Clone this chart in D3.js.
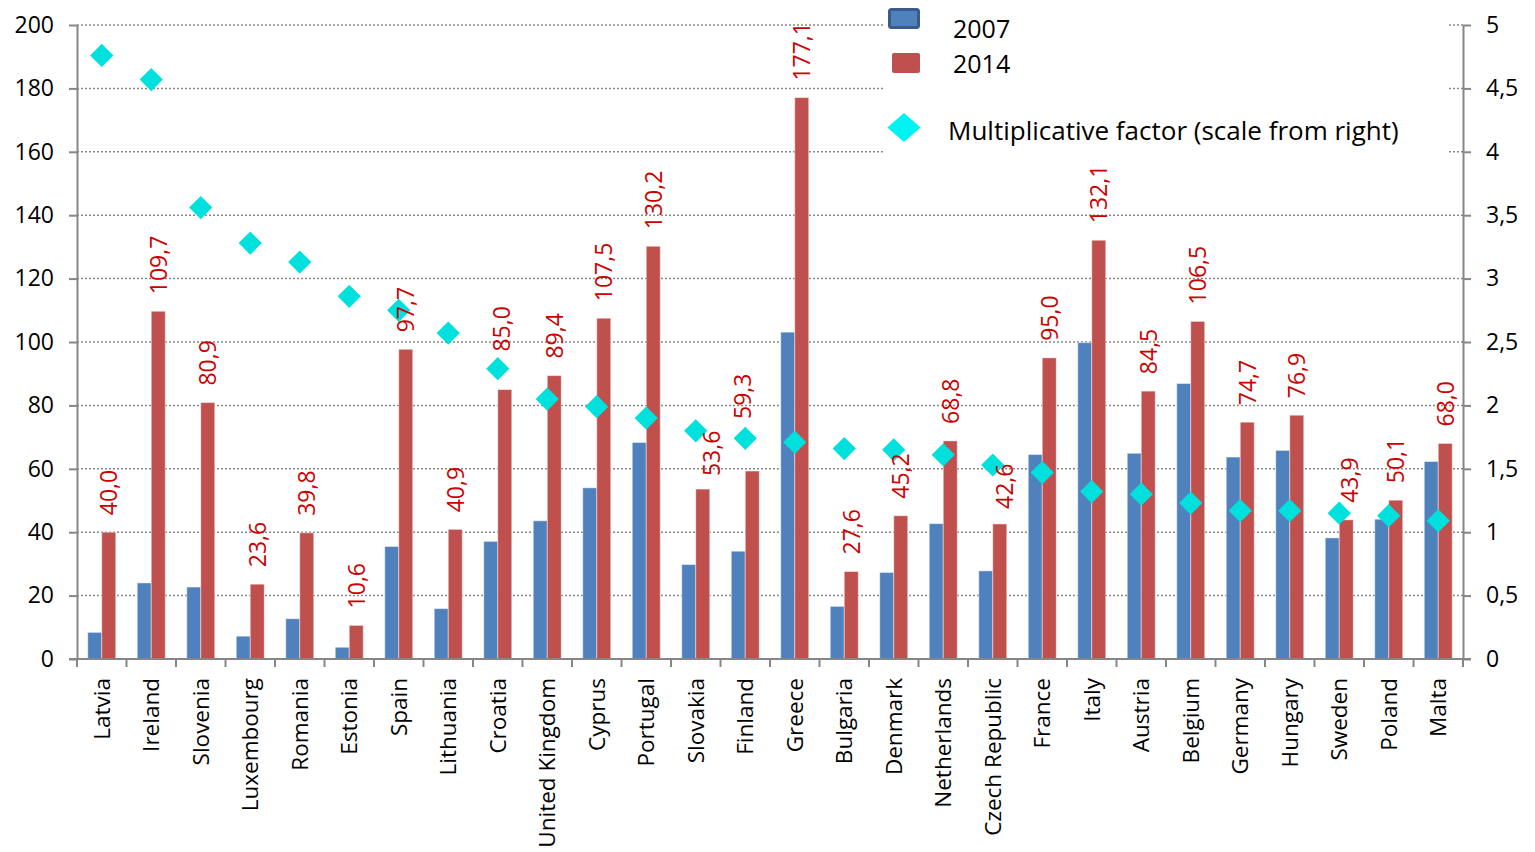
<!DOCTYPE html>
<html>
<head>
<meta charset="utf-8">
<script src="https://cdn.jsdelivr.net/npm/d3@7"></script>
<style>
  html, body { margin: 0; padding: 0; background: #fff; }
  svg { display: block; font-family: "Open Sans", sans-serif; }
</style>
</head>
<body>
<svg id="chart" width="1535" height="852"></svg>
<script>
// Public debt (% of GDP) in 2007 and 2014, with the 2014/2007 multiplicative factor
const countries = ["Latvia", "Ireland", "Slovenia", "Luxembourg", "Romania", "Estonia", "Spain",
  "Lithuania", "Croatia", "United Kingdom", "Cyprus", "Portugal", "Slovakia", "Finland", "Greece",
  "Bulgaria", "Denmark", "Netherlands", "Czech Republic", "France", "Italy", "Austria", "Belgium",
  "Germany", "Hungary", "Sweden", "Poland", "Malta"];

const debt2007 = [8.4, 24.0, 22.7, 7.2, 12.7, 3.7, 35.5, 15.9, 37.1, 43.6, 54.0, 68.3, 29.8, 34.0,
  103.1, 16.6, 27.3, 42.7, 27.8, 64.5, 99.8, 64.9, 86.9, 63.7, 65.8, 38.2, 44.1, 62.3];

const debt2014 = [40.0, 109.7, 80.9, 23.6, 39.8, 10.6, 97.7, 40.9, 85.0, 89.4, 107.5, 130.2, 53.6, 59.3,
  177.1, 27.6, 45.2, 68.8, 42.6, 95.0, 132.1, 84.5, 106.5, 74.7, 76.9, 43.9, 50.1, 68.0];

const factor = [4.76, 4.57, 3.56, 3.28, 3.13, 2.86, 2.75, 2.57, 2.29, 2.05, 1.99, 1.90, 1.80, 1.74,
  1.71, 1.66, 1.65, 1.61, 1.53, 1.47, 1.32, 1.30, 1.23, 1.17, 1.17, 1.15, 1.13, 1.09];

const leftTicks = [0, 20, 40, 60, 80, 100, 120, 140, 160, 180, 200];
const rightTicks = [0, 0.5, 1, 1.5, 2, 2.5, 3, 3.5, 4, 4.5, 5];
const seriesNames = ["2007", "2014"];
const factorName = "Multiplicative factor (scale from right)";

const rows = countries.map((c, i) => ({ c, v2007: debt2007[i], v2014: debt2014[i], f: factor[i] }));

const svg = d3.select("#chart");
const L = 77, R = 1463, T = 25, B = 659;
const axisColor = "#868686";
const comma = d => String(d).replace(".", ",");

// value labels sit a fixed gap above their bar; a few are nudged clear of the diamonds
const labelGap = 17;
const labelNudge = {
  "Croatia": { dx: -3, dy: -21 },
  "Slovakia": { dx: 9, dy: 4 },
  "Finland": { dx: -10, dy: -35 },
  "Czech Republic": { dx: 5, dy: 2 },
  "Sweden": { dx: 3, dy: 0 }
};

const x = d3.scaleBand().domain(countries).range([L, R]);
const xs = d3.scaleBand().domain(seriesNames).range([0, x.bandwidth()]).paddingOuter(0.768);
const y = d3.scaleLinear().domain([0, 200]).range([B, T]);
const y2 = d3.scaleLinear().domain([0, 5]).range([B, T]);

// dotted horizontal gridlines
svg.append("g").selectAll("line")
  .data(leftTicks.filter(d => d > 0)).join("line")
  .attr("x1", L).attr("x2", R)
  .attr("y1", d => y(d)).attr("y2", d => y(d))
  .attr("stroke", "#888").attr("stroke-width", 1.5)
  .attr("stroke-dasharray", "2,2");

// legend background hides the gridlines behind it
svg.append("rect").attr("x", 883).attr("y", 0).attr("width", 564).attr("height", 160).attr("fill", "#fff");

// bars
const colors = { "2007": "#4F81BD", "2014": "#C0504D" };
const groups = svg.append("g").selectAll("g").data(rows).join("g")
  .attr("transform", d => `translate(${x(d.c)},0)`);
groups.selectAll("rect")
  .data(d => [{ k: "2007", v: d.v2007 }, { k: "2014", v: d.v2014 }])
  .join("rect")
  .attr("x", d => xs(d.k))
  .attr("width", xs.bandwidth())
  .attr("y", d => y(d.v))
  .attr("height", d => y(0) - y(d.v))
  .attr("fill", d => colors[d.k])
  .attr("stroke", "rgba(255,255,255,0.45)")
  .attr("stroke-width", 1);

// multiplicative factor markers (diamonds)
const diamond = d3.symbol().type(d3.symbolSquare).size(270);
svg.append("g").selectAll("path").data(rows).join("path")
  .attr("d", diamond)
  .attr("transform", d => `translate(${x(d.c) + x.bandwidth() / 2},${y2(d.f)}) rotate(45)`)
  .attr("fill", "#00E0DC");

// value labels above the 2014 bars
svg.append("g").selectAll("text").data(rows).join("text")
  .attr("transform", d => {
    const n = labelNudge[d.c] || { dx: 0, dy: 0 };
    const cx = x(d.c) + xs("2014") + xs.bandwidth() / 2 + n.dx;
    const cy = y(d.v2014) - labelGap + n.dy;
    return `translate(${cx},${cy}) rotate(-90)`;
  })
  .attr("dy", "0.36em")
  .attr("text-anchor", "start")
  .attr("fill", "#CC0000")
  .attr("font-size", 23)
  .text(d => comma(d.v2014.toFixed(1)));

// left axis
const gl = svg.append("g").attr("transform", `translate(${L},0)`)
  .call(d3.axisLeft(y).tickValues(leftTicks).tickSize(8).tickSizeOuter(0).tickPadding(15));
// right axis
const gr = svg.append("g").attr("transform", `translate(${R},0)`)
  .call(d3.axisRight(y2).tickValues(rightTicks).tickSize(8).tickSizeOuter(0).tickPadding(15).tickFormat(comma));
[gl, gr].forEach(g => {
  g.selectAll("path, line").attr("stroke", axisColor).attr("stroke-width", 2);
  g.selectAll("text").attr("font-size", 23).attr("fill", "#000").attr("font-family", '"Open Sans", sans-serif');
});

// bottom axis: baseline, category boundary ticks, rotated names
const gb = svg.append("g");
gb.append("line").attr("x1", L - 8).attr("x2", R + 8).attr("y1", y(0)).attr("y2", y(0))
  .attr("stroke", axisColor).attr("stroke-width", 2);
gb.selectAll("line.tick").data(countries.concat([null])).join("line")
  .attr("class", "tick")
  .attr("x1", d => d === null ? R : x(d)).attr("x2", d => d === null ? R : x(d))
  .attr("y1", y(0)).attr("y2", y(0) + 8)
  .attr("stroke", axisColor).attr("stroke-width", 2);
gb.selectAll("text").data(countries).join("text")
  .attr("transform", d => `translate(${x(d) + x.bandwidth() / 2},${y(0) + 19}) rotate(-90)`)
  .attr("dy", "0.36em")
  .attr("text-anchor", "end")
  .attr("font-size", 22.5)
  .attr("fill", "#000")
  .text(d => d);

// legend
const lg = svg.append("g");
lg.append("rect").attr("x", 889.5).attr("y", 9.5).attr("width", 29).attr("height", 18).attr("rx", 2)
  .attr("fill", colors["2007"]).attr("stroke", "#385D8A").attr("stroke-width", 3);
lg.append("rect").attr("x", 892).attr("y", 53).attr("width", 28).attr("height", 20).attr("rx", 2)
  .attr("fill", colors["2014"]);
lg.append("path")
  .attr("d", d3.symbol().type(d3.symbolSquare).size(300))
  .attr("transform", "translate(904,127.5) scale(1.36,1.18) rotate(45)")
  .attr("fill", "#00F2F2");
lg.append("text").attr("x", 953).attr("y", 38).attr("font-size", 25).text(seriesNames[0]);
lg.append("text").attr("x", 953).attr("y", 73).attr("font-size", 25).text(seriesNames[1]);
lg.append("text").attr("x", 948).attr("y", 140).attr("font-size", 26).text(factorName);
</script>
</body>
</html>
